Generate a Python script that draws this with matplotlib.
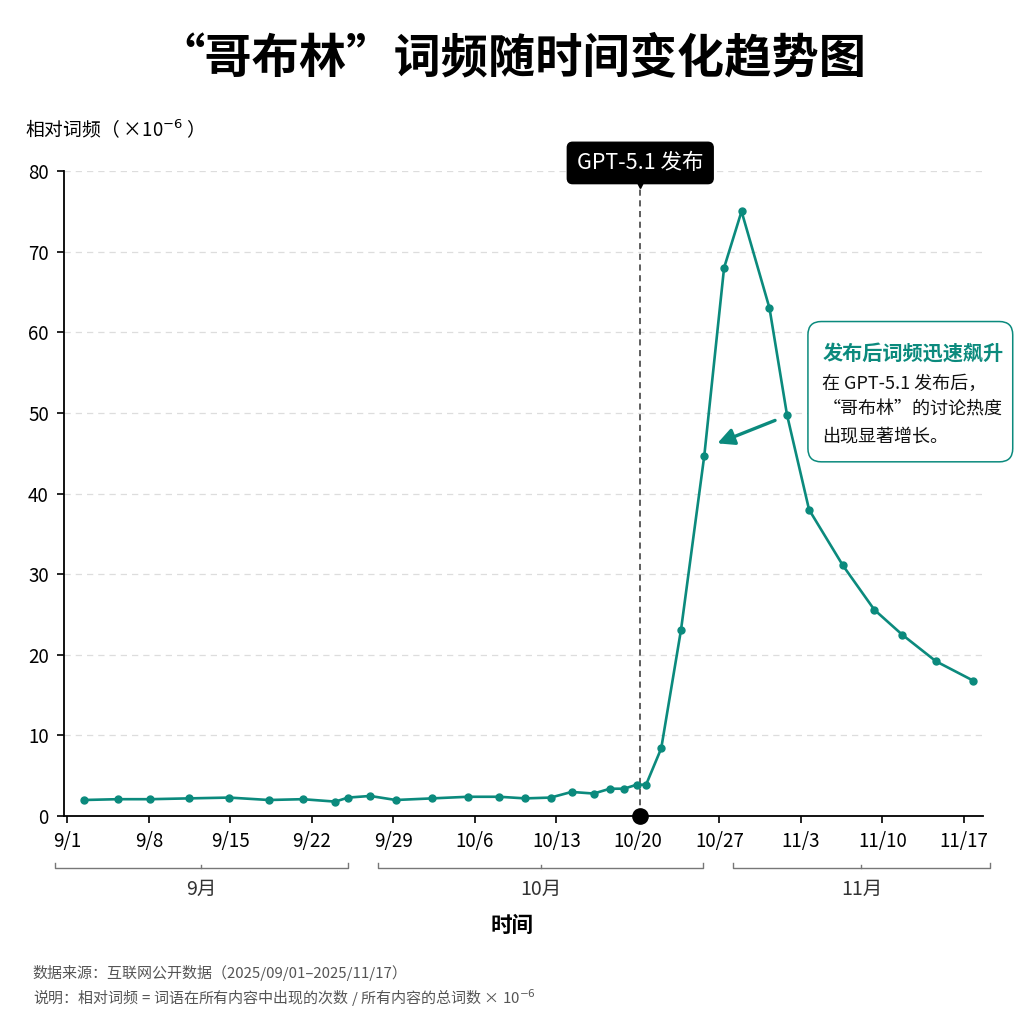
import matplotlib
matplotlib.use("Agg")
import matplotlib.pyplot as plt
import matplotlib.transforms as mtransforms
from matplotlib.patches import FancyBboxPatch

plt.rcParams['font.family'] = ['Noto Sans CJK SC', 'DejaVu Sans']

# days since 9/1 and relative frequency (x1e-6)
days = [1.4, 4.3, 7.1, 10.4, 13.9, 17.3, 20.2, 23.0, 24.1, 26.0, 28.2, 31.3,
        34.4, 37.1, 39.3, 41.5, 43.3, 45.2, 46.6, 47.8, 48.9, 49.7, 51.0, 52.7,
        54.7, 56.4, 57.9, 60.3, 61.8, 63.7, 66.6, 69.3, 71.7, 74.6, 77.8]
freq = [2.0, 2.1, 2.1, 2.2, 2.3, 2.0, 2.1, 1.8, 2.3, 2.5, 2.0, 2.2,
        2.4, 2.4, 2.2, 2.3, 3.0, 2.8, 3.4, 3.4, 3.9, 3.9, 8.4, 23.1,
        44.7, 68.0, 75.0, 63.0, 49.8, 38.0, 31.1, 25.6, 22.5, 19.2, 16.8]

tick_days = [0, 7, 14, 21, 28, 35, 42, 49, 56, 63, 70, 77]
tick_labels = ['9/1', '9/8', '9/15', '9/22', '9/29', '10/6', '10/13', '10/20',
               '10/27', '11/3', '11/10', '11/17']
months = ['9月', '10月', '11月']
month_spans = [(-1.1, 24.1), (26.7, 54.6), (57.2, 79.2)]
release_day = 49.2

teal = '#0b8a7d'

fig = plt.figure(figsize=(10.24, 10.24), dpi=100)
ax = fig.add_axes([0.0625, 0.203, 0.897, 0.630])

ax.plot(days, freq, color=teal, lw=1.9, marker='o', ms=5, zorder=3)
ax.set_xlim(-0.3, 78.6)
ax.set_ylim(0, 80)
ax.set_yticks(range(0, 81, 10))
ax.set_xticks(tick_days)
ax.set_xticklabels(tick_labels)
ax.tick_params(labelsize=13.5, length=5, width=1.2, pad=6)
ax.grid(axis='y', ls=(0, (5, 4)), color='#dddddd', lw=0.9)
ax.set_axisbelow(True)
for s in ['top', 'right']:
    ax.spines[s].set_visible(False)
for s in ['left', 'bottom']:
    ax.spines[s].set_linewidth(1.3)

# release marker
ax.axvline(release_day, color='#333333', lw=1.1, ls=(0, (4, 3)), zorder=2)
ax.plot([release_day], [0], 'o', color='black', ms=11, clip_on=False, zorder=5)
ax.text(release_day, 81.0, 'GPT-5.1 发布', ha='center', va='center', fontsize=15.5,
        color='white', fontweight='medium', zorder=6,
        bbox=dict(boxstyle='round,pad=0.45,rounding_size=0.25', fc='black', ec='black'))
ax.plot([release_day], [78.5], marker='v', color='black', ms=7, clip_on=False, zorder=6)

# month brackets
trans = mtransforms.blended_transform_factory(ax.transData, ax.transAxes)
for name, (a, b) in zip(months, month_spans):
    yb = -0.081
    ax.plot([a, a, b, b], [yb + 0.008, yb, yb, yb + 0.008], color='#777777', lw=1,
            transform=trans, clip_on=False)
    c = (a + b) / 2
    ax.plot([c, c], [yb, yb + 0.006], color='#777777', lw=1, transform=trans, clip_on=False)
    ax.text(c, -0.114, name, transform=trans, ha='center', va='center', fontsize=14,
            color='#333333')

# callout
box = FancyBboxPatch((0.789, 0.549), 0.200, 0.137, boxstyle='round,pad=0,rounding_size=0.013',
                     transform=fig.transFigure, fc='white', ec=teal, lw=1.1, zorder=6)
fig.patches.append(box)
fig.text(0.803, 0.655, '发布后词频迅速飙升', fontsize=14.5, color=teal, fontweight='bold',
         va='center', ha='left', zorder=7)
fig.text(0.803, 0.625, '在 GPT-5.1 发布后，', fontsize=13, color='#111111', va='center', zorder=7)
fig.text(0.803, 0.600, '“哥布林”的讨论热度', fontsize=13, color='#111111', va='center', zorder=7)
fig.text(0.803, 0.574, '出现显著增长。', fontsize=13, color='#111111', va='center', zorder=7)
ax.annotate('', xy=(55.6, 46.1), xytext=(61.0, 49.2),
            arrowprops=dict(arrowstyle='-|>,head_length=1.0,head_width=0.5', color=teal, lw=2.4))

# titles and labels
fig.text(0.5, 0.943, '“哥布林”词频随时间变化趋势图', ha='center', va='center',
         fontsize=34, fontweight='bold')
fig.text(0.024, 0.872, '相对词频（ ×10$^{-6}$ ）', ha='left', va='center', fontsize=13.5)
fig.text(0.5, 0.096, '时间', ha='center', va='center', fontsize=15.5, fontweight='bold')
fig.text(0.032, 0.050, '数据来源：互联网公开数据（2025/09/01–2025/11/17）', fontsize=10.8,
         color='#555555', va='center')
fig.text(0.032, 0.025, '说明：相对词频 = 词语在所有内容中出现的次数 / 所有内容的总词数 × 10$^{-6}$',
         fontsize=10.8, color='#555555', va='center')

fig.savefig('out.png', dpi=100, facecolor='white')
